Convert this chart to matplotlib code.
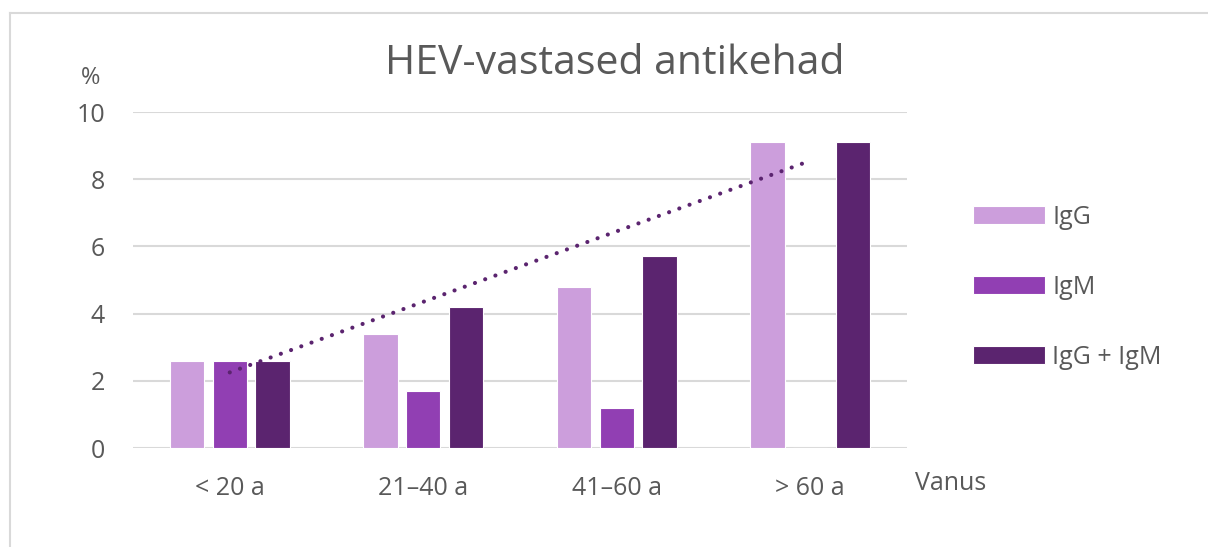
import matplotlib.pyplot as plt
import numpy as np
from matplotlib.lines import Line2D

plt.rcParams['font.family'] = ['Open Sans', 'DejaVu Sans']

# data
categories = ['< 20 a', '21–40 a', '41–60 a', '> 60 a']
series_names = ['IgG', 'IgM', 'IgG + IgM']
igg = [2.6, 3.4, 4.8, 9.1]
igm = [2.6, 1.7, 1.2, 0.0]
igg_igm = [2.6, 4.2, 5.7, 9.1]
y_ticks = [0, 2, 4, 6, 8, 10]

colors = ['#CC9EDC', '#913FB3', '#5B246F']
text_col = '#595959'
grid_col = '#D9D9D9'

W, H = 1208, 547
fig = plt.figure(figsize=(W / 100, H / 100), dpi=100)

# light frame around the chart (top and left edges visible)
fig.add_artist(Line2D([10 / W, 1], [1 - 13 / H, 1 - 13 / H], color=grid_col, lw=1.5))
fig.add_artist(Line2D([10 / W, 10 / W], [0, 1 - 13 / H], color=grid_col, lw=1.5))

ax = fig.add_axes([133 / W, 1 - 448 / H, (907 - 133) / W, (448 - 112) / H])

x = np.arange(len(categories))
bar_w = 0.178
step = 0.222
for i, (vals, name) in enumerate(zip([igg, igm, igg_igm], series_names)):
    ax.bar(x + (i - 1) * step, vals, width=bar_w, color=colors[i],
           edgecolor='white', linewidth=0.8, label=name, zorder=3)

# linear trend of IgG + IgM
k, b = np.polyfit(x, igg_igm, 1)
ax.plot(x, k * x + b, color='#5B246F', lw=3, linestyle=(0, (0.01, 2.6)),
        dash_capstyle='round', zorder=4)

ax.set_xlim(-0.5, 3.5)
ax.set_ylim(0, 10)
ax.set_yticks(y_ticks)
ax.set_xticks(x)
ax.set_xticklabels(categories)
ax.yaxis.grid(True, color=grid_col, lw=1.5, zorder=0)
ax.set_axisbelow(True)
for s in ax.spines.values():
    s.set_visible(False)
ax.tick_params(length=0, labelsize=18, colors=text_col)
ax.tick_params(axis='y', pad=20)
ax.tick_params(axis='x', pad=20)

fig.text(615 / W, 1 - 64 / H, 'HEV-vastased antikehad', ha='center', va='center',
         fontsize=29.5, color=text_col)
fig.text(91 / W, 1 - 78 / H, '%', ha='center', va='center', fontsize=17, color=text_col)
fig.text(915 / W, 1 - 484 / H, 'Vanus', ha='left', va='center', fontsize=18, color=text_col)

leg = fig.legend(loc='center left', bbox_to_anchor=(950 / W, 1 - 287 / H), frameon=False,
                 fontsize=18, labelcolor=text_col, handlelength=2.9, handleheight=0.7,
                 labelspacing=1.8, handletextpad=0.3)

fig.savefig('out.png', dpi=100)
